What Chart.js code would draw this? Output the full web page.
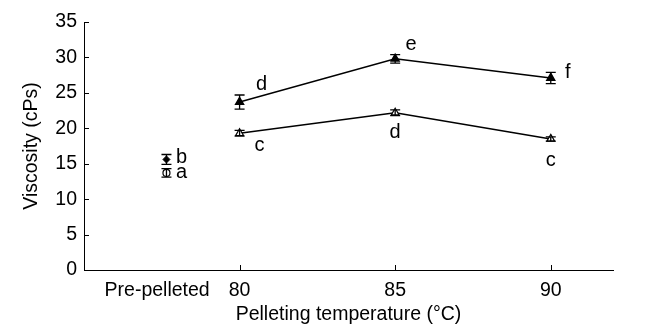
<!DOCTYPE html>
<html>
<head>
<meta charset="utf-8">
<script src="https://cdn.jsdelivr.net/npm/chart.js@4/dist/chart.umd.min.js"></script>
<style>
  html, body { margin: 0; padding: 0; background: #fff; }
  #wrap { width: 655px; height: 327px; }
</style>
</head>
<body>
<div id="wrap"><canvas id="viscChart"></canvas></div>
<script>
// data
const temps = [80, 85, 90];
const upperMeans = [23.7, 29.8, 27.1];
const upperErr = [1.0, 0.6, 0.8];
const upperLetters = ['d', 'e', 'f'];
const lowerMeans = [19.3, 22.2, 18.5];
const lowerErr = [0.4, 0.4, 0.3];
const lowerLetters = ['c', 'd', 'c'];
const prePelletedX = 77.65;
const preMeans = [15.6, 13.7];
const preErr = [0.7, 0.6];
const preLetters = ['b', 'a'];
const xTickValues = [77.35, 80, 85, 90];
const xTickLabels = ['Pre-pelleted', '80', '85', '90'];
const yTicks = [0, 5, 10, 15, 20, 25, 30, 35];

const FONT = 'Liberation Sans, Arial, sans-serif';

// error bars, letters and inward tick marks
const extras = {
    id: 'extras',
    afterDatasetsDraw(chart) {
        const ctx = chart.ctx;
        const xs = chart.scales.x, ys = chart.scales.y;
        ctx.save();
        ctx.strokeStyle = '#000';
        ctx.lineWidth = 1.3;
        chart.data.datasets.forEach(ds => {
            ds.data.forEach((p, i) => {
                const px = xs.getPixelForValue(p.x);
                const top = ys.getPixelForValue(p.y + ds.err[i]);
                const bot = ys.getPixelForValue(p.y - ds.err[i]);
                ctx.beginPath();
                ctx.moveTo(px, top); ctx.lineTo(px, bot);
                ctx.moveTo(px - 5, top); ctx.lineTo(px + 5, top);
                ctx.moveTo(px - 5, bot); ctx.lineTo(px + 5, bot);
                ctx.stroke();
                const off = ds.letterOffsets[i];
                ctx.fillStyle = '#000';
                ctx.font = '20px ' + FONT;
                ctx.textAlign = 'center';
                ctx.textBaseline = 'middle';
                ctx.fillText(ds.letters[i], px + off[0], ys.getPixelForValue(p.y) + off[1]);
            });
        });
        // tick marks pointing into the plot
        ctx.lineWidth = 1;
        ctx.beginPath();
        temps.forEach(t => {
            const px = Math.round(xs.getPixelForValue(t)) + 0.5;
            ctx.moveTo(px, ys.bottom); ctx.lineTo(px, ys.bottom - 5);
        });
        yTicks.forEach(v => {
            const py = Math.round(ys.getPixelForValue(v)) + 0.5;
            ctx.moveTo(xs.left, py); ctx.lineTo(xs.left + 5, py);
        });
        ctx.stroke();
        ctx.restore();
    }
};

new Chart(document.getElementById('viscChart').getContext('2d'), {
    type: 'scatter',
    data: {
        datasets: [{
            label: 'upper',
            data: temps.map((t, i) => ({ x: t, y: upperMeans[i] })),
            err: upperErr,
            letters: upperLetters,
            letterOffsets: [[22, -18], [16, -14], [17, -5]],
            showLine: true,
            borderColor: '#000',
            borderWidth: 1.5,
            pointStyle: 'triangle',
            pointRadius: 4.5,
            pointBackgroundColor: '#000',
            pointBorderColor: '#000'
        }, {
            label: 'lower',
            data: temps.map((t, i) => ({ x: t, y: lowerMeans[i] })),
            err: lowerErr,
            letters: lowerLetters,
            letterOffsets: [[20, 12], [0, 20], [0, 22]],
            showLine: true,
            borderColor: '#000',
            borderWidth: 1.5,
            pointStyle: 'triangle',
            pointRadius: 4.5,
            pointBackgroundColor: '#fff',
            pointBorderColor: '#000',
            pointBorderWidth: 1.2
        }, {
            label: 'pre b',
            data: [{ x: prePelletedX, y: preMeans[0] }],
            err: [preErr[0]],
            letters: [preLetters[0]],
            letterOffsets: [[15, -2]],
            pointStyle: 'rectRot',
            pointRadius: 3.5,
            pointBackgroundColor: '#000',
            pointBorderColor: '#000'
        }, {
            label: 'pre a',
            data: [{ x: prePelletedX, y: preMeans[1] }],
            err: [preErr[1]],
            letters: [preLetters[1]],
            letterOffsets: [[15, 0]],
            pointStyle: 'circle',
            pointRadius: 3.5,
            pointBackgroundColor: '#fff',
            pointBorderColor: '#000',
            pointBorderWidth: 1.2
        }]
    },
    options: {
        responsive: true,
        maintainAspectRatio: false,
        animation: false,
        layout: { padding: { top: 22, right: 42 } },
        plugins: {
            legend: { display: false },
            tooltip: { enabled: false }
        },
        scales: {
            x: {
                type: 'linear',
                min: 75,
                max: 92,
                afterBuildTicks: axis => { axis.ticks = xTickValues.map(v => ({ value: v })); },
                afterFit: axis => { axis.height = 57; },
                grid: { display: false, drawTicks: false },
                border: { display: true, color: '#000', width: 1 },
                ticks: {
                    color: '#000',
                    padding: 9,
                    maxRotation: 0,
                    autoSkip: false,
                    font: { family: FONT, size: 19.5 },
                    callback: (v) => xTickLabels[xTickValues.indexOf(v)]
                },
                title: {
                    display: true,
                    text: 'Pelleting temperature (°C)',
                    color: '#000',
                    padding: { top: 0, bottom: 1 },
                    font: { family: FONT, size: 19.5 }
                }
            },
            y: {
                min: 0,
                max: 35,
                afterBuildTicks: axis => { axis.ticks = yTicks.map(v => ({ value: v })); },
                afterFit: axis => { axis.width = 84; },
                grid: { display: false, drawTicks: false },
                border: { display: true, color: '#000', width: 1 },
                ticks: {
                    color: '#000',
                    padding: 7,
                    font: { family: FONT, size: 19.5 }
                },
                title: {
                    display: true,
                    text: 'Viscosity (cPs)',
                    color: '#000',
                    padding: { top: 20, bottom: 0 },
                    font: { family: FONT, size: 19.5 }
                }
            }
        }
    },
    plugins: [extras]
});
</script>
</body>
</html>
